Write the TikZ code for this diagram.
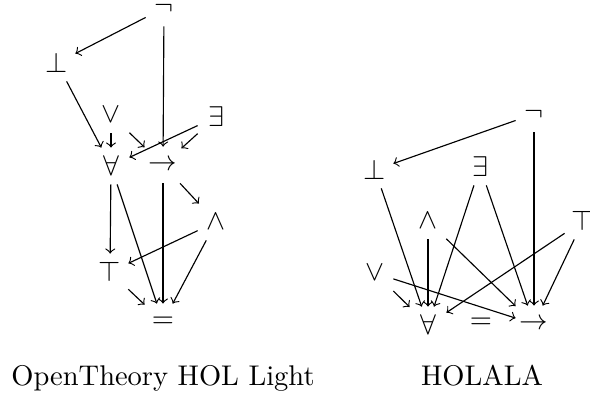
\documentclass[tikz,border=0pt]{standalone}
\usepackage{amsmath}

\begin{document}
\begin{tikzpicture}[x=0.351pt, y=-0.351pt,
    sym/.style={minimum size=12.5pt, inner sep=0pt}]
  \useasboundingbox (0,0) rectangle (590,396);

  % 左图：OpenTheory HOL Light
  \node[sym] (lneg) at (164,8) {$\neg$};
  \node[sym] (lbot) at (57,63) {$\bot$};
  \node[sym] (lor)  at (111,115) {$\vee$};
  \node[sym] (lex)  at (216,117) {$\exists$};
  \node[sym] (lall) at (111,166) {$\forall$};
  \node[sym] (limp) at (163,165) {$\rightarrow$};
  \node[sym] (land) at (216,222) {$\wedge$};
  \node[sym] (ltop) at (110,272) {$\top$};
  \node[sym] (leq)  at (163,322) {$=$};

  % 左图的边
  \foreach \s/\t in {lneg/lbot, lneg/limp, lbot/lall, lor/lall, lor/limp,
                     lex/lall, lex/limp, lall/ltop, lall/leq, limp/leq,
                     limp/land, land/ltop, land/leq, ltop/leq} {
    \draw[->] (\s) -- (\t);
  }

  % 右图：HOLALA
  \node[sym] (rneg) at (534,114) {$\neg$};
  \node[sym] (rbot) at (375,170) {$\bot$};
  \node[sym] (rex)  at (480,167) {$\exists$};
  \node[sym] (rand) at (428,221) {$\wedge$};
  \node[sym] (rtop) at (583,221) {$\top$};
  \node[sym] (ror)  at (375,273) {$\vee$};
  \node[sym] (rall) at (428,325) {$\forall$};
  \node[sym] (req)  at (481,323) {$=$};
  \node[sym] (rimp) at (534,324) {$\rightarrow$};

  % 右图的边
  \foreach \s/\t in {rneg/rbot, rneg/rimp, rbot/rall, rex/rall, rex/rimp,
                     rand/rall, rand/rimp, rtop/rall, rtop/rimp,
                     ror/rall, ror/rimp} {
    \draw[->] (\s) -- (\t);
  }

  % 标题
  \node[anchor=base] (ltitle) at (163,385) {OpenTheory HOL Light};
  \node[anchor=base] (rtitle) at (482,385) {HOLALA};
\end{tikzpicture}
\end{document}
